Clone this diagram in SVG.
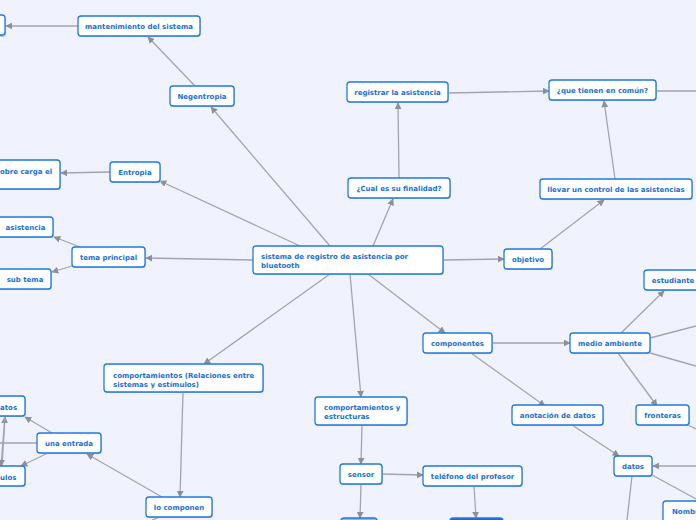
<svg xmlns="http://www.w3.org/2000/svg" width="696" height="520" viewBox="0 0 696 520">
<defs>
<marker id="ah" viewBox="0 0 10 10" refX="9" refY="5" markerWidth="7" markerHeight="7" markerUnits="userSpaceOnUse" orient="auto">
<path d="M0,0 L10,5 L0,10 z" fill="#8e9097"/>
</marker>
<style>
.n rect{fill:#fff;stroke:#1f7ae0;stroke-width:1.3}
.n .sh{fill:#b9c4d8;stroke:none}
.n text{font-family:"DejaVu Sans",Verdana,sans-serif;font-weight:bold;font-size:7px;fill:#1a70d6}
.c{text-anchor:middle}
#conn line,#conn path{stroke:#a3a5ad;stroke-width:1.3;fill:none}
.a{marker-end:url(#ah)}
</style>
</defs>
<rect width="696" height="520" fill="#f0f3fd"/>
<g id="conn">
<line class="a" x1="78" y1="26" x2="6" y2="26"/>
<line class="a" x1="195" y1="86" x2="148" y2="37"/>
<line class="a" x1="330" y1="246" x2="211" y2="107"/>
<line class="a" x1="300" y1="246" x2="160" y2="181"/>
<line class="a" x1="110" y1="172" x2="61" y2="173"/>
<line class="a" x1="253" y1="260" x2="146" y2="258"/>
<line class="a" x1="80" y1="247" x2="54" y2="237"/>
<line class="a" x1="72" y1="266" x2="52" y2="272"/>
<line class="a" x1="373" y1="246" x2="393" y2="199"/>
<line class="a" x1="399" y1="178" x2="398" y2="103"/>
<line class="a" x1="448" y1="93" x2="549" y2="91"/>
<line x1="656" y1="91" x2="696" y2="91"/>
<line class="a" x1="615" y1="179" x2="604" y2="101"/>
<line class="a" x1="540" y1="249" x2="604" y2="200"/>
<line class="a" x1="443" y1="260" x2="504" y2="259"/>
<line class="a" x1="368" y1="274" x2="445" y2="333"/>
<line class="a" x1="350" y1="274" x2="361" y2="397"/>
<line class="a" x1="330" y1="274" x2="204" y2="364"/>
<line class="a" x1="492" y1="343" x2="570" y2="343"/>
<line class="a" x1="471" y1="353" x2="545" y2="406"/>
<line class="a" x1="621" y1="333" x2="664" y2="291"/>
<line x1="650" y1="338" x2="696" y2="326"/>
<line x1="650" y1="353" x2="696" y2="366"/>
<line class="a" x1="618" y1="353" x2="657" y2="406"/>
<line x1="688" y1="425" x2="696" y2="429"/>
<line class="a" x1="572" y1="425" x2="619" y2="456"/>
<line class="a" x1="696" y1="466" x2="653" y2="466"/>
<line x1="652" y1="475" x2="696" y2="499"/>
<line x1="632" y1="476" x2="627" y2="520"/>
<line class="a" x1="362" y1="425" x2="361" y2="464"/>
<line class="a" x1="382" y1="474" x2="423" y2="475"/>
<line class="a" x1="361" y1="484" x2="360" y2="518"/>
<line class="a" x1="474" y1="486" x2="476" y2="518"/>
<line class="a" x1="183" y1="392" x2="180" y2="497"/>
<line class="a" x1="162" y1="497" x2="87" y2="454"/>
<line x1="160" y1="517" x2="152" y2="520"/>
<line class="a" x1="52" y1="433" x2="25" y2="417"/>
<line x1="37" y1="443" x2="0" y2="443"/>
<line class="a" x1="48" y1="453" x2="21" y2="466"/>
<line class="a" x1="2" y1="466" x2="5" y2="417"/>
<line class="a" x1="5" y1="416" x2="1" y2="466"/>
</g>
<g id="n_cut_top" class="n"><rect class="sh" x="-10" y="16" width="16" height="21" rx="3"/><rect x="-10" y="15" width="15" height="20" rx="3"/></g>
<g id="n_mant" class="n"><rect class="sh" x="79" y="17" width="122" height="20" rx="3"/><rect x="78" y="16" width="122" height="20" rx="3"/><text class="c" x="139" y="28.5">mantenimiento del sistema</text></g>
<g id="n_negen" class="n"><rect class="sh" x="171" y="87" width="64" height="20" rx="3"/><rect x="170" y="86" width="64" height="20" rx="3"/><text class="c" x="202" y="98.5">Negentropia</text></g>
<g id="n_entropia" class="n"><rect class="sh" x="111" y="163" width="50" height="20" rx="3"/><rect x="110" y="162" width="50" height="20" rx="3"/><text class="c" x="135" y="174.5">Entropia</text></g>
<g id="n_sobrecarga" class="n"><rect class="sh" x="-10" y="161" width="71" height="29" rx="3"/><rect x="-10" y="160" width="70" height="29" rx="3"/><text x="0" y="173.5">obre carga el</text></g>
<g id="n_asist" class="n"><rect class="sh" x="-10" y="218" width="64" height="20" rx="3"/><rect x="-10" y="217" width="63" height="20" rx="3"/><text class="c" x="25.5" y="229.5">asistencia</text></g>
<g id="n_tema" class="n"><rect class="sh" x="73" y="248" width="73" height="20" rx="3"/><rect x="72" y="247" width="73" height="20" rx="3"/><text class="c" x="108.5" y="259.5">tema principal</text></g>
<g id="n_subtema" class="n"><rect class="sh" x="-10" y="270" width="62" height="20" rx="3"/><rect x="-10" y="269" width="61" height="20" rx="3"/><text class="c" x="25" y="281.5">sub tema</text></g>
<g id="n_central" class="n"><rect class="sh" x="254" y="247" width="190" height="28" rx="3"/><rect x="253" y="246" width="190" height="28" rx="3"/><text x="261" y="258.5">sistema de registro de asistencia por</text><text x="261" y="267.5">bluetooth</text></g>
<g id="n_cual" class="n"><rect class="sh" x="349" y="179" width="102" height="20" rx="3"/><rect x="348" y="178" width="102" height="20" rx="3"/><text class="c" x="399" y="190.5">¿Cual es su finalidad?</text></g>
<g id="n_registrar" class="n"><rect class="sh" x="348" y="83" width="101" height="20" rx="3"/><rect x="347" y="82" width="101" height="20" rx="3"/><text class="c" x="397.5" y="94.5">registrar la asistencia</text></g>
<g id="n_que" class="n"><rect class="sh" x="550" y="81" width="107" height="20" rx="3"/><rect x="549" y="80" width="107" height="20" rx="3"/><text class="c" x="602.5" y="92.5">¿que tienen en común?</text></g>
<g id="n_llevar" class="n"><rect class="sh" x="541" y="180" width="152" height="20" rx="3"/><rect x="540" y="179" width="152" height="20" rx="3"/><text class="c" x="616" y="191.5">llevar un control de las asistencias</text></g>
<g id="n_objetivo" class="n"><rect class="sh" x="505" y="250" width="48" height="20" rx="3"/><rect x="504" y="249" width="48" height="20" rx="3"/><text class="c" x="528" y="261.5">objetivo</text></g>
<g id="n_componentes" class="n"><rect class="sh" x="424" y="334" width="69" height="20" rx="3"/><rect x="423" y="333" width="69" height="20" rx="3"/><text class="c" x="457.5" y="345.5">componentes</text></g>
<g id="n_medio" class="n"><rect class="sh" x="571" y="334" width="80" height="20" rx="3"/><rect x="570" y="333" width="80" height="20" rx="3"/><text class="c" x="610" y="345.5">medio ambiente</text></g>
<g id="n_estudiante" class="n"><rect class="sh" x="645" y="271" width="58" height="20" rx="3"/><rect x="644" y="270" width="58" height="20" rx="3"/><text class="c" x="673" y="282.5">estudiante</text></g>
<g id="n_anotacion" class="n"><rect class="sh" x="513" y="406" width="91" height="20" rx="3"/><rect x="512" y="405" width="91" height="20" rx="3"/><text class="c" x="557.5" y="417.5">anotación de datos</text></g>
<g id="n_fronteras" class="n"><rect class="sh" x="637" y="406" width="53" height="20" rx="3"/><rect x="636" y="405" width="53" height="20" rx="3"/><text class="c" x="662.5" y="417.5">fronteras</text></g>
<g id="n_datos" class="n"><rect class="sh" x="615" y="457" width="38" height="20" rx="3"/><rect x="614" y="456" width="38" height="20" rx="3"/><text class="c" x="633" y="468.5">datos</text></g>
<g id="n_nombre" class="n"><rect class="sh" x="664" y="502" width="40" height="24" rx="3"/><rect x="663" y="501" width="40" height="24" rx="3"/><text x="672" y="513.5">Nombr</text></g>
<g id="n_comport_rel" class="n"><rect class="sh" x="105" y="365" width="159" height="28" rx="3"/><rect x="104" y="364" width="159" height="28" rx="3"/><text x="113" y="377.5">comportamientos (Relaciones entre</text><text x="113" y="386.5">sistemas y estímulos)</text></g>
<g id="n_atos" class="n"><rect class="sh" x="-10" y="397" width="36" height="20" rx="3"/><rect x="-10" y="396" width="35" height="20" rx="3"/><text x="0" y="409.5">atos</text></g>
<g id="n_entrada" class="n"><rect class="sh" x="38" y="434" width="64" height="20" rx="3"/><rect x="37" y="433" width="64" height="20" rx="3"/><text class="c" x="69" y="445.5">una entrada</text></g>
<g id="n_ulos" class="n"><rect class="sh" x="-10" y="467" width="36" height="20" rx="3"/><rect x="-10" y="466" width="35" height="20" rx="3"/><text x="0" y="479.5">ulos</text></g>
<g id="n_locomponen" class="n"><rect class="sh" x="147" y="498" width="66" height="20" rx="3"/><rect x="146" y="497" width="66" height="20" rx="3"/><text class="c" x="179" y="509.5">lo componen</text></g>
<g id="n_comport_est" class="n"><rect class="sh" x="316" y="398" width="92" height="28" rx="3"/><rect x="315" y="397" width="92" height="28" rx="3"/><text x="324" y="409.5">comportamientos y</text><text x="324" y="418.5">estructuras</text></g>
<g id="n_sensor" class="n"><rect class="sh" x="341" y="465" width="42" height="20" rx="3"/><rect x="340" y="464" width="42" height="20" rx="3"/><text class="c" x="361" y="476.5">sensor</text></g>
<g id="n_telefono" class="n"><rect class="sh" x="424" y="467" width="99" height="20" rx="3"/><rect x="423" y="466" width="99" height="20" rx="3"/><text class="c" x="472.5" y="478.5">teléfono del profesor</text></g>
<g id="n_bottom1" class="n"><rect x="341" y="518" width="36" height="20" rx="3" style="fill:#8cb9f2"/></g>
<g id="n_bottom2" class="n"><rect x="450" y="518" width="53" height="20" rx="3" style="fill:#2168cc"/></g>
</svg>
